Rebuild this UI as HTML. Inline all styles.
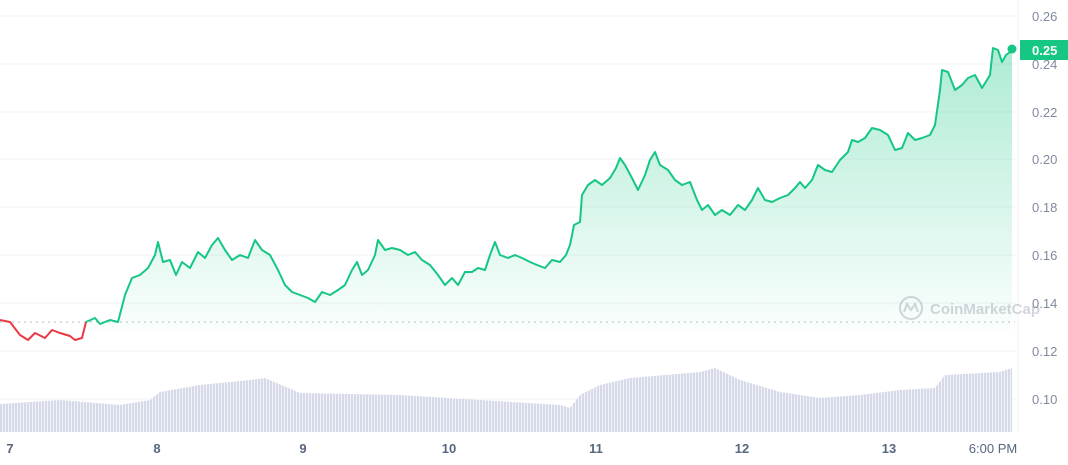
<!DOCTYPE html>
<html><head><meta charset="utf-8"><style>
body{margin:0;background:#fff;width:1068px;height:460px;overflow:hidden;font-family:"Liberation Sans",sans-serif}
</style></head><body>
<svg width="1068" height="460" xmlns="http://www.w3.org/2000/svg">
<defs>
<linearGradient id="g" x1="0" y1="0" x2="0" y2="1">
<stop offset="0" stop-color="#16c784" stop-opacity="0.35"/>
<stop offset="1" stop-color="#16c784" stop-opacity="0.02"/>
</linearGradient>
<pattern id="vb" width="3" height="10" patternUnits="userSpaceOnUse">
<rect x="0" y="0" width="2" height="10" fill="#d6d9e8"/>
<rect x="2" y="0" width="1" height="10" fill="#f2f3f8"/>
</pattern>
</defs>
<g stroke="#f2f3f5" stroke-width="1">
<line x1="0" y1="16" x2="1018" y2="16"/><line x1="0" y1="64" x2="1018" y2="64"/>
<line x1="0" y1="112" x2="1018" y2="112"/><line x1="0" y1="159" x2="1018" y2="159"/>
<line x1="0" y1="207" x2="1018" y2="207"/><line x1="0" y1="255" x2="1018" y2="255"/>
<line x1="0" y1="303" x2="1018" y2="303"/><line x1="0" y1="351" x2="1018" y2="351"/>
<line x1="0" y1="399" x2="1018" y2="399"/><line x1="1018" y1="0" x2="1018" y2="432"/>
</g>
<path fill="url(#vb)" d="M0,404 L60,400 L120,405 L150,400 L160,392 L200,385 L250,380 L265,378 L300,393 L400,395 L480,400 L560,405 L570,408 L580,395 L600,385 L630,378 L700,372 L715,368 L740,380 L780,392 L820,398 L860,395 L900,390 L935,388 L945,375 L1000,372 L1012,368 L1012,432 L0,432 Z"/>
<polygon fill="url(#g)" points="86,322 95,318 100,324 110,320 118,322 125,295 132,278 140,275 148,268 155,255 158,242 163,262 170,260 176,275 182,262 190,268 198,252 205,258 212,245 218,238 225,250 232,260 240,255 248,258 255,240 262,250 270,255 278,270 285,285 292,292 300,295 308,298 315,302 322,292 330,295 338,290 345,285 352,270 357,262 362,275 368,270 375,255 378,240 385,250 392,248 400,250 408,255 415,252 422,260 430,265 438,275 445,285 452,278 458,285 465,272 472,272 478,268 485,270 490,255 495,242 500,255 508,258 515,255 522,258 530,262 537,265 545,268 552,260 560,262 566,255 570,245 574,225 580,222 582,195 588,185 595,180 602,185 610,178 616,168 620,158 625,165 632,178 638,190 645,175 650,160 655,152 660,165 668,170 675,180 682,185 690,182 697,200 702,210 708,205 715,215 722,210 730,215 738,205 745,210 752,200 758,188 765,200 772,202 780,198 788,195 795,188 800,182 805,188 812,180 818,165 825,170 832,172 840,160 848,152 852,140 858,142 865,138 872,128 880,130 888,135 895,150 902,148 908,133 915,140 922,138 930,135 935,125 940,90 942,70 948,72 955,90 962,85 968,78 975,75 982,88 990,75 993,48 998,50 1002,62 1006,55 1010,52 1012,49 1012,330 86,330"/>
<line x1="0" y1="322" x2="1015" y2="322" stroke="#b8bcc6" stroke-width="1" stroke-dasharray="2,4"/>
<polyline fill="none" stroke="#ea3943" stroke-width="2" stroke-linejoin="round" points="0,320 10,322 20,335 28,340 35,333 45,338 52,330 60,333 70,336 75,340 82,338 86,322"/>
<polyline fill="none" stroke="#16c784" stroke-width="2" stroke-linejoin="round" points="86,322 95,318 100,324 110,320 118,322 125,295 132,278 140,275 148,268 155,255 158,242 163,262 170,260 176,275 182,262 190,268 198,252 205,258 212,245 218,238 225,250 232,260 240,255 248,258 255,240 262,250 270,255 278,270 285,285 292,292 300,295 308,298 315,302 322,292 330,295 338,290 345,285 352,270 357,262 362,275 368,270 375,255 378,240 385,250 392,248 400,250 408,255 415,252 422,260 430,265 438,275 445,285 452,278 458,285 465,272 472,272 478,268 485,270 490,255 495,242 500,255 508,258 515,255 522,258 530,262 537,265 545,268 552,260 560,262 566,255 570,245 574,225 580,222 582,195 588,185 595,180 602,185 610,178 616,168 620,158 625,165 632,178 638,190 645,175 650,160 655,152 660,165 668,170 675,180 682,185 690,182 697,200 702,210 708,205 715,215 722,210 730,215 738,205 745,210 752,200 758,188 765,200 772,202 780,198 788,195 795,188 800,182 805,188 812,180 818,165 825,170 832,172 840,160 848,152 852,140 858,142 865,138 872,128 880,130 888,135 895,150 902,148 908,133 915,140 922,138 930,135 935,125 940,90 942,70 948,72 955,90 962,85 968,78 975,75 982,88 990,75 993,48 998,50 1002,62 1006,55 1010,52 1012,49"/>
<circle cx="1012" cy="49" r="4.5" fill="#16c784"/>
<g fill="#808a9d" font-size="13">
<text x="1032" y="21">0.26</text><text x="1032" y="69">0.24</text>
<text x="1032" y="117">0.22</text><text x="1032" y="164">0.20</text>
<text x="1032" y="212">0.18</text><text x="1032" y="260">0.16</text>
<text x="1032" y="308">0.14</text><text x="1032" y="356">0.12</text>
<text x="1032" y="404">0.10</text>
</g>
<rect x="1020" y="40" width="48" height="20" fill="#16c784"/>
<text x="1032" y="55" fill="#fff" font-size="13" font-weight="bold">0.25</text>
<g fill="#58667e" font-size="13" font-weight="bold" text-anchor="middle">
<text x="10" y="453">7</text><text x="157" y="453">8</text><text x="303" y="453">9</text>
<text x="449" y="453">10</text><text x="596" y="453">11</text><text x="742" y="453">12</text>
<text x="889" y="453">13</text><text x="993" y="453" font-weight="normal">6:00 PM</text>
</g>
<g opacity="0.35">
<circle cx="911" cy="308" r="11" fill="none" stroke="#808a9d" stroke-width="2"/>
<path d="M904,312 L907,304 L911,310 L915,304 L918,312" fill="none" stroke="#808a9d" stroke-width="2"/>
<text x="930" y="314" fill="#808a9d" font-size="15" font-weight="bold">CoinMarketCap</text>
</g>
</svg>
</body></html>
